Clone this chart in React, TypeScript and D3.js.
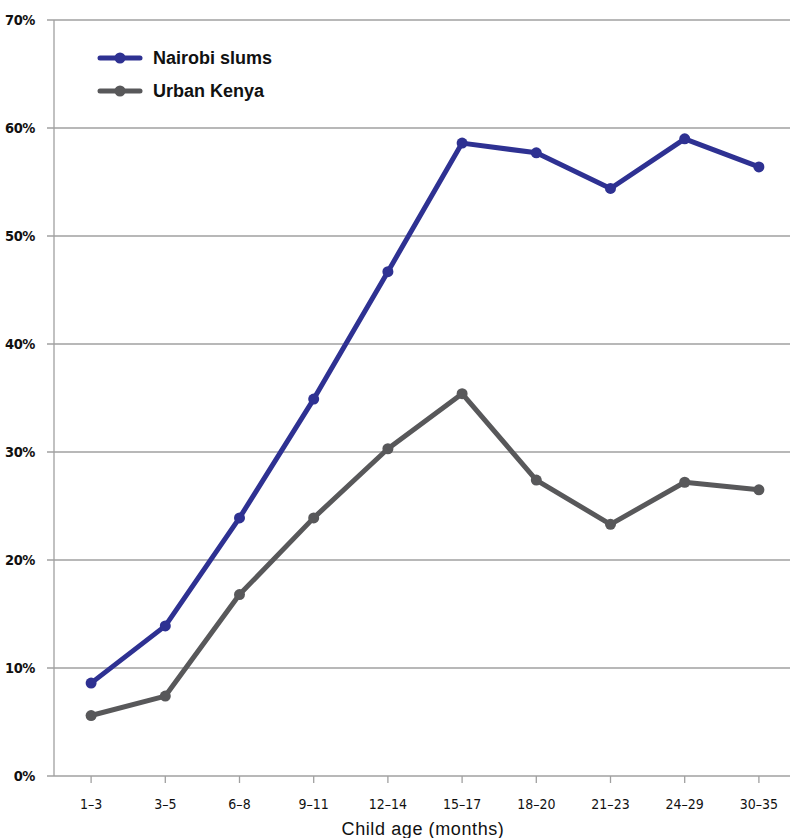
import React from "react";
import * as d3 from "d3";

const categories = ["1–3", "3–5", "6–8", "9–11", "12–14", "15–17", "18–20", "21–23", "24–29", "30–35"];
const nairobi = [8.6, 13.9, 23.9, 34.9, 46.7, 58.6, 57.7, 54.4, 59.0, 56.4];
const urban = [5.6, 7.4, 16.8, 23.9, 30.3, 35.4, 27.4, 23.3, 27.2, 26.5];
const yTicks = [0, 10, 20, 30, 40, 50, 60, 70];
const seriesNames = ["Nairobi slums", "Urban Kenya"];
const colors = ["#2e3192", "#58585a"];

const W = 790, H = 838;
const left = 54, right = 796, top = 20, bottom = 776;

export default function App() {
  const x = d3.scaleBand<string>().domain(categories).range([left, right]);
  const y = d3.scaleLinear().domain([0, 70]).range([bottom, top]);
  const cx = (c: string) => (x(c) as number) + x.bandwidth() / 2;
  const line = d3.line<number>().x((_, i) => cx(categories[i])).y((v) => y(v));
  const narrow = "'Liberation Sans Narrow', 'DejaVu Sans Condensed', 'Arial Narrow', sans-serif";
  const series = [nairobi, urban];
  return (
    <svg width={W} height={H} style={{ position: "absolute", left: 0, top: 0 }}>
      {yTicks.map((t) => (
        <g key={t}>
          <line x1={47} x2={W} y1={y(t)} y2={y(t)} stroke="#a0a0a0" strokeWidth={1.3} />
          <text x={35} y={y(t)} dy="0.36em" textAnchor="end" fontFamily={narrow} fontWeight="bold" fontSize={14.5} letterSpacing={-0.4} fill="#111">
            {t}%
          </text>
        </g>
      ))}
      <line x1={left} x2={left} y1={top} y2={bottom} stroke="#a0a0a0" strokeWidth={1.3} />
      {categories.map((c) => (
        <g key={c}>
          <line x1={cx(c)} x2={cx(c)} y1={bottom} y2={bottom + 7} stroke="#a0a0a0" strokeWidth={1.3} />
          <text x={cx(c)} y={bottom + 33} textAnchor="middle" fontFamily={narrow} fontSize={14} fill="#111">
            {c}
          </text>
        </g>
      ))}
      <text x={423} y={835} textAnchor="middle" fontFamily="'Liberation Sans', Arial, sans-serif" fontSize={18} letterSpacing={0.6} fill="#111">
        Child age (months)
      </text>
      {series.map((s, k) => (
        <g key={k}>
          <path d={line(s) || ""} fill="none" stroke={colors[k]} strokeWidth={5} strokeLinejoin="round" />
          {s.map((v, i) => (
            <circle key={i} cx={cx(categories[i])} cy={y(v)} r={5.5} fill={colors[k]} />
          ))}
        </g>
      ))}
      {seriesNames.map((n, k) => (
        <g key={n} transform={`translate(0, ${58 + k * 33})`}>
          <line x1={100} x2={140} y1={0} y2={0} stroke={colors[k]} strokeWidth={5} strokeLinecap="round" />
          <circle cx={120} cy={0} r={5.5} fill={colors[k]} />
          <text x={153} y={0} dy="0.36em" fontFamily="'Liberation Sans', Arial, sans-serif" fontWeight="bold" fontSize={18} fill="#111">
            {n}
          </text>
        </g>
      ))}
    </svg>
  );
}
